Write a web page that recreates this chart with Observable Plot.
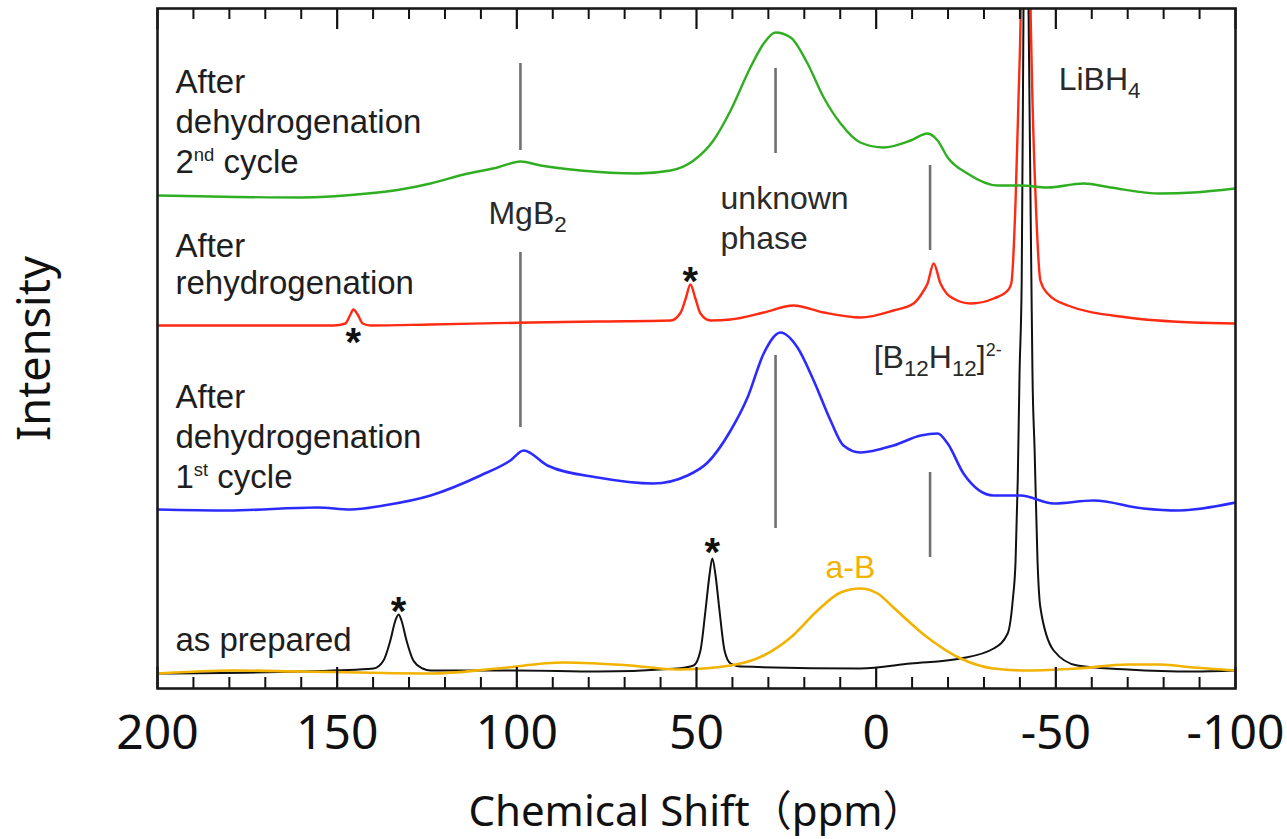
<!DOCTYPE html>
<html>
<head>
<meta charset="utf-8">
<script src="https://cdn.jsdelivr.net/npm/d3@7"></script>
<script src="https://cdn.jsdelivr.net/npm/@observablehq/plot@0.6"></script>
<style>
  html, body { margin: 0; padding: 0; background: #fff; }
  svg text { white-space: pre; }
</style>
</head>
<body>
<div id="chart"></div>
<script>
// ---- Data (chemical shift in ppm, intensity in arbitrary units) ----
const greenPpm = [200,160.2,141.6,132.4,124.0,114.8,105.4,99.0,93.4,82.3,66.4,57.2,50.8,45.3,40.5,35.0,31.3,28.0,23.8,19.1,14.6,9.9,4.4,-2.1,-9.6,-14.3,-17.1,-19.9,-25.4,-33.8,-40.2,-47.7,-57.7,-65.2,-79.1,-88.3,-100];
const greenInt = [0,-2,2,6,12,21,28,34,30,25,22,25,35,55,85,128,152,163,158,132,98,72,53,48,55,62,55,38,22,10,10,8,12,8,2,3,7];

const redPpm = [200,151.0,147.7,146.3,145.5,144.3,142.9,140.7,124.0,96.2,77.5,57.2,54.4,53.0,51.7,50.3,48.9,46.1,40.5,31.3,23.0,14.6,4.4,-4.8,-10.4,-12.9,-14.3,-16.0,-17.9,-19.6,-21.5,-26.3,-32.7,-36.6,-37.6,-38.8,-39.6,-40.2,-41.6,-43.0,-43.5,-44.4,-45.7,-47.7,-53.3,-70.0,-88.3,-100];
const redInt = [0,0,2,11,16,11,2,0,1,3,4,5,13,27,41,27,12,5,6,13,20,13,8,15,22,33,42,62,42,32,27,22,27,35,42,125,225,308,900,308,225,125,45,32,20,8,3,2];

const bluePpm = [200,180.5,155.5,146.3,137.1,124.0,110.1,101.8,98.1,91.5,77.5,62.0,52.5,46.9,40.5,35.8,31.3,26.6,21.9,17.4,12.7,9.1,4.4,-4.8,-12.4,-17.1,-19.9,-24.3,-32.7,-40.2,-49.4,-60.5,-74.4,-83.9,-100];
const blueInt = [0,-1,2,0,4,14,34,49,59,44,32,26,34,47,79,112,156,177,162,129,89,64,57,64,74,76,66,36,14,14,6,9,1,-1,7];

const blackPpm = [200,160.2,139.9,137.1,135.2,133.8,132.9,132.1,130.7,128.8,126.2,124.0,99.8,77.5,55.3,50.8,48.9,47.5,46.4,45.6,44.7,43.6,42.2,40.5,37.7,4.4,-9.6,-23.5,-32.7,-36.6,-38.0,-38.8,-39.4,-39.9,-40.5,-41.0,-41.7,-42.4,-43.2,-43.5,-44.1,-44.9,-45.7,-49.4,-56.0,-70.0,-88.3,-100];
const blackInt = [0,2,5,13,33,53,59,53,33,13,5,3,3,2,5,8,23,63,98,115,98,63,23,10,7,5,10,15,25,40,73,113,193,300,393,665,1000,665,393,300,223,113,66,23,8,4,2,3];

const orangePpm = [200,178.8,160.2,124.0,105.4,87.0,68.4,55.3,40.5,31.3,23.8,16.3,9.9,4.4,-0.4,-4.8,-14.3,-23.5,-32.7,-42.1,-56.0,-70.0,-79.1,-88.3,-100];
const orangeInt = [0,3,2,0,5,11,8,4,8,18,36,63,81,85,80,66,36,15,5,3,5,9,9,6,3];

// vertical stacking offsets of each trace
const seriesNames   = ["red", "black", "orange", "blue", "green"];
const seriesOffsets = [363, 15, 15, 179, 493];
const seriesColors  = ["#ff2a12", "#111111", "#f2b200", "#2b2bff", "#2fae22"];
const seriesWidths  = [2.4, 2, 2.6, 2.6, 2.4];

// axis ticks
const majorTicks = [200, 150, 100, 50, 0, -50, -100];
const minorTicks = [190,180,170,160,140,130,120,110,90,80,70,60,40,30,20,10,-10,-20,-30,-40,-60,-70,-80,-90];

// assignment marker lines
const markerX  = [99, 99, 28, 28, -15, -15];
const markerY1 = [538, 261, 535, 160, 438, 131];
const markerY2 = [625, 436, 620, 333, 523, 216];

// sample labels
const sampleText = ["After","dehydrogenation","2^{nd} cycle","After","rehydrogenation","After","dehydrogenation","1^{st} cycle","as prepared"];
const sampleX    = [195,195,195,195,195,195,195,195,195];
const sampleY    = [596,556,516,432,395,281,241,201,38];

// phase labels
const phaseText = ["MgB_{2}","unknown","phase","LiBH_{4}","[B_{12}H_{12}]^{2-}"];
const phaseX    = [107.9, 43.3, 43.3, -50.8, 0.7];
const phaseY    = [465, 480, 440, 599, 321];

const aBText = ["a-B"], aBX = [14.1], aBY = [111];

// spinning sidebands
const starX = [145.5, 51.7, 132.9, 45.6];
const starY = [333, 394, 64, 123];

// ---- build ----
const series = {
  red: [redPpm, redInt], black: [blackPpm, blackInt], orange: [orangePpm, orangeInt],
  blue: [bluePpm, blueInt], green: [greenPpm, greenInt]
};
const lineMarks = seriesNames.map((name, k) => {
  const [xs, ys] = series[name];
  const rows = xs.map((x, i) => ({x, y: ys[i] + seriesOffsets[k]}));
  return Plot.line(rows, {x: "x", y: "y", stroke: seriesColors[k], strokeWidth: seriesWidths[k], curve: "monotone-x", clip: true});
});

const labelFont = "Liberation Sans, Arial, Helvetica, sans-serif";
const axisFont = "Noto Sans, Noto Sans CJK JP, sans-serif";

const chart = Plot.plot({
  width: 1287,
  height: 839,
  marginTop: 8,
  marginBottom: 151,
  marginLeft: 157,
  marginRight: 52,
  x: {domain: [200, -100], axis: null},
  y: {domain: [0, 680], axis: null},
  marks: [
    // marker lines
    Plot.ruleX(markerX.map((x, i) => ({x, y1: markerY1[i], y2: markerY2[i]})), {x: "x", y1: "y1", y2: "y2", stroke: "#707070", strokeWidth: 2.6}),
    ...lineMarks,
    // ticks (inward, bottom and top)
    Plot.ruleX(minorTicks, {x: d => d, y1: 0, y2: 11, stroke: "#111", strokeWidth: 2}),
    Plot.ruleX(majorTicks, {x: d => d, y1: 0, y2: 21, stroke: "#111", strokeWidth: 2.2}),
    Plot.ruleX(minorTicks, {x: d => d, y1: 680, y2: 669, stroke: "#111", strokeWidth: 2}),
    Plot.ruleX(majorTicks, {x: d => d, y1: 680, y2: 659, stroke: "#111", strokeWidth: 2.2}),
    // tick labels
    Plot.text(majorTicks, {x: d => d, frameAnchor: "bottom", dy: 60, lineAnchor: "bottom", text: d => String(d), fontSize: 48, fontFamily: axisFont, fill: "#111"}),
    // axis titles
    Plot.text(["Chemical Shift（ppm）"], {frameAnchor: "bottom", dy: 137, lineAnchor: "bottom", textAnchor: "middle", text: d => d, fontSize: 42, fontFamily: axisFont, fill: "#111"}),
    Plot.text(["Intensity"], {frameAnchor: "left", dx: -122, rotate: -90, textAnchor: "middle", lineAnchor: "middle", text: d => d, fontSize: 45, fontFamily: axisFont, fill: "#111"}),
    // sample labels
    Plot.text(sampleText.map((t, i) => ({t, x: sampleX[i], y: sampleY[i]})), {x: "x", y: "y", text: "t", textAnchor: "start", lineAnchor: "bottom", fontSize: 33, fontFamily: labelFont, fill: "#1e1e1e"}),
    // phase labels
    Plot.text(phaseText.map((t, i) => ({t, x: phaseX[i], y: phaseY[i]})), {x: "x", y: "y", text: "t", textAnchor: "start", lineAnchor: "bottom", fontSize: 32, fontFamily: labelFont, fill: "#2a2a2a"}),
    Plot.text(aBText.map((t, i) => ({t, x: aBX[i], y: aBY[i]})), {x: "x", y: "y", text: "t", textAnchor: "start", lineAnchor: "bottom", fontSize: 32, fontFamily: labelFont, fill: "#f2b200"}),
    // asterisks
    Plot.text(starX.map((x, i) => ({x, y: starY[i]})), {x: "x", y: "y", text: () => "*", lineAnchor: "bottom", fontSize: 40, fontWeight: "bold", fontFamily: labelFont, fill: "#111"}),
    Plot.frame({stroke: "#1a1a1a", strokeWidth: 2.6})
  ]
});

document.getElementById("chart").appendChild(chart);

// rich text: _{..} subscript, ^{..} superscript
function applyRich(svg) {
  svg.querySelectorAll("text").forEach(el => {
    const nodes = el.querySelector("tspan") ? Array.from(el.querySelectorAll("tspan")) : [el];
    nodes.forEach(node => {
      const s = node.textContent;
      if (!/[_^]\{/.test(s)) return;
      const fs = parseFloat(getComputedStyle(node).fontSize);
      node.textContent = "";
      let shift = 0;
      const re = /([_^])\{([^}]*)\}|([^_^]+)/g;
      let m;
      while ((m = re.exec(s))) {
        const t = document.createElementNS("http://www.w3.org/2000/svg", "tspan");
        let target = 0, size = null, txt;
        if (m[3] !== undefined) { txt = m[3]; }
        else if (m[1] === "_") { txt = m[2]; target = 0.28 * fs; size = 0.7 * fs; }
        else { txt = m[2]; target = -0.36 * fs; size = 0.56 * fs; }
        if (target !== shift) t.setAttribute("dy", (target - shift).toFixed(2));
        shift = target;
        if (size) t.setAttribute("font-size", size.toFixed(2));
        t.textContent = txt;
        node.appendChild(t);
      }
    });
  });
}
applyRich(chart);
</script>
</body>
</html>
